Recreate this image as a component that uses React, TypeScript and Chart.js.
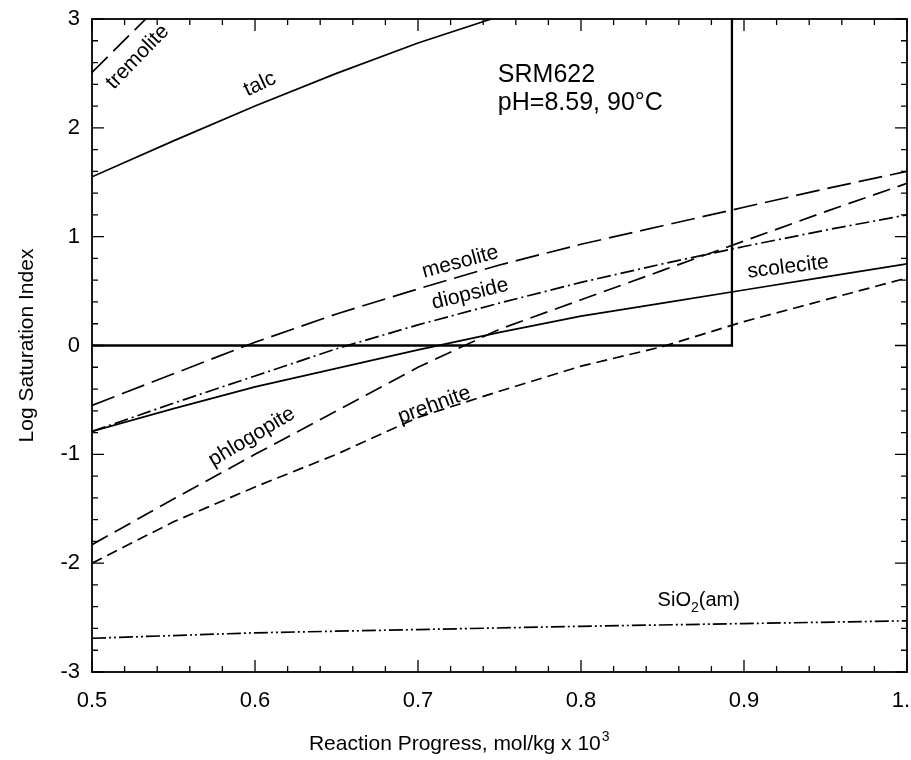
import React, { useEffect, useRef } from 'react';
import { Chart, registerables } from 'chart.js';

Chart.register(...registerables);

// ---------- data ----------
const progress = [0.5, 0.55, 0.6, 0.65, 0.7, 0.75, 0.8, 0.85, 0.9, 0.95, 1.0];
const mesolite = [-0.55, -0.26, 0.03, 0.29, 0.52, 0.74, 0.93, 1.1, 1.27, 1.44, 1.6];
const diopside = [-0.79, -0.53, -0.28, -0.03, 0.19, 0.39, 0.58, 0.75, 0.91, 1.06, 1.2];
const phlogopite = [-1.83, -1.41, -1.0, -0.6, -0.2, 0.15, 0.42, 0.69, 0.96, 1.23, 1.49];
const scolecite = [-0.79, -0.58, -0.38, -0.21, -0.04, 0.12, 0.27, 0.39, 0.51, 0.63, 0.75];
const prehnite = [-2.0, -1.62, -1.3, -1.0, -0.66, -0.42, -0.19, -0.01, 0.22, 0.42, 0.62];

const sio2Progress = [0.5, 0.6, 0.7, 0.8, 0.9, 1.0];
const sio2am = [-2.69, -2.64, -2.61, -2.58, -2.555, -2.53];

const talcProgress = [0.5, 0.55, 0.6, 0.65, 0.7, 0.745];
const talc = [1.55, 1.88, 2.2, 2.5, 2.78, 3.0];

const tremoliteProgress = [0.5, 0.533];
const tremolite = [2.51, 3.0];

const boundaryProgress = [0.5, 0.8926, 0.8926];
const boundarySI = [0, 0, 3];

const xTickValues = [0.5, 0.6, 0.7, 0.8, 0.9, 1.0];
const xTickLabels = ['0.5', '0.6', '0.7', '0.8', '0.9', '1.0'];
const yTickValues = [-3, -2, -1, 0, 1, 2, 3];
const yTickLabels = ['-3', '-2', '-1', '0', '1', '2', '3'];

const xTitleMain = 'Reaction Progress, mol/kg x 10';
const xTitleSup = '3';
const xTitleCenter = 0.725;

const curveNames = ['tremolite', 'talc', 'mesolite', 'diopside', 'prehnite', 'phlogopite', 'scolecite'];
const curveLabelX = [0.528, 0.603, 0.726, 0.732, 0.71, 0.598, 0.927];
const curveLabelY = [2.65, 2.4, 0.767, 0.473, -0.547, -0.84, 0.72];
const curveLabelAngle = [-46, -25, -15, -14, -20, -31, -7];

const infoLines = ['SRM622', 'pH=8.59, 90°C'];
const infoX = 0.749;
const infoY = [2.42, 2.165];

const sio2LabelX = 0.847;
const sio2LabelY = -2.39;

const FONT = '"Liberation Sans", Arial, Helvetica, sans-serif';

const pts = (xs: number[], ys: number[]) => xs.map((x, i) => ({ x, y: ys[i] }));

const lineDs = (label: string, data: { x: number; y: number }[], dash: number[], width = 1.7) => ({
  label,
  data,
  borderColor: '#000',
  backgroundColor: '#000',
  borderWidth: width,
  borderDash: dash,
  pointRadius: 0,
  fill: false,
  tension: 0,
});

const framePlugin = {
  id: 'frameTicks',
  afterDraw(chart: any) {
    const { ctx, chartArea } = chart;
    const { left, right, top, bottom } = chartArea;
    const xs = chart.scales.x;
    const ys = chart.scales.y;
    ctx.save();
    ctx.strokeStyle = '#000';
    ctx.lineWidth = 1.8;
    ctx.strokeRect(left, top, right - left, bottom - top);
    ctx.lineWidth = 1.3;
    ctx.beginPath();
    for (let i = 0; i <= 25; i++) {
      const v = 0.5 + i * 0.02;
      const px = xs.getPixelForValue(v);
      const len = i % 5 === 0 ? 12 : 6;
      ctx.moveTo(px, bottom);
      ctx.lineTo(px, bottom - len);
      ctx.moveTo(px, top);
      ctx.lineTo(px, top + len);
    }
    for (let i = 0; i <= 30; i++) {
      const v = -3 + i * 0.2;
      const py = ys.getPixelForValue(v);
      const len = i % 5 === 0 ? 12 : 6;
      ctx.moveTo(left, py);
      ctx.lineTo(left + len, py);
      ctx.moveTo(right, py);
      ctx.lineTo(right - len, py);
    }
    ctx.stroke();
    ctx.restore();
  },
};

const labelPlugin = {
  id: 'curveLabels',
  afterDraw(chart: any) {
    const { ctx, chartArea } = chart;
    const xs = chart.scales.x;
    const ys = chart.scales.y;
    ctx.save();
    ctx.fillStyle = '#000';
    ctx.font = `21px ${FONT}`;
    ctx.textAlign = 'center';
    ctx.textBaseline = 'middle';
    curveNames.forEach((name, i) => {
      const px = xs.getPixelForValue(curveLabelX[i]);
      const py = ys.getPixelForValue(curveLabelY[i]);
      ctx.save();
      ctx.translate(px, py);
      ctx.rotate((curveLabelAngle[i] * Math.PI) / 180);
      ctx.fillText(name, 0, 0);
      ctx.restore();
    });
    // info block
    ctx.font = `25px ${FONT}`;
    ctx.textAlign = 'left';
    ctx.textBaseline = 'alphabetic';
    infoLines.forEach((t, i) => {
      ctx.fillText(t, xs.getPixelForValue(infoX), ys.getPixelForValue(infoY[i]));
    });
    // SiO2(am)
    let sx = xs.getPixelForValue(sio2LabelX);
    const sy = ys.getPixelForValue(sio2LabelY);
    ctx.font = `20px ${FONT}`;
    ctx.fillText('SiO', sx, sy);
    sx += ctx.measureText('SiO').width;
    ctx.font = `14px ${FONT}`;
    ctx.fillText('2', sx, sy + 6);
    sx += ctx.measureText('2').width;
    ctx.font = `20px ${FONT}`;
    ctx.fillText('(am)', sx, sy);

    // x-axis title with superscript
    ctx.font = `21px ${FONT}`;
    const wMain = ctx.measureText(xTitleMain).width;
    ctx.font = `14px ${FONT}`;
    const wSup = ctx.measureText(xTitleSup).width;
    const cx = xs.getPixelForValue(xTitleCenter);
    const baseY = chartArea.bottom + 78;
    let tx = cx - (wMain + wSup) / 2;
    ctx.font = `21px ${FONT}`;
    ctx.fillText(xTitleMain, tx, baseY);
    tx += wMain + 1;
    ctx.font = `14px ${FONT}`;
    ctx.fillText(xTitleSup, tx, baseY - 9);
    ctx.restore();
  },
};

export default function App() {
  const ref = useRef<HTMLCanvasElement>(null);
  useEffect(() => {
    const canvas = ref.current;
    if (!canvas) return;
    const chart = new Chart(canvas, {
      type: 'line',
      data: {
        datasets: [
          lineDs('boundary', pts(boundaryProgress, boundarySI), [], 2.3),
          lineDs('tremolite', pts(tremoliteProgress, tremolite), [22, 8]),
          lineDs('talc', pts(talcProgress, talc), []),
          lineDs('mesolite', pts(progress, mesolite), [24, 8]),
          lineDs('diopside', pts(progress, diopside), [14, 4, 2, 4]),
          lineDs('phlogopite', pts(progress, phlogopite), [18, 8]),
          lineDs('scolecite', pts(progress, scolecite), []),
          lineDs('prehnite', pts(progress, prehnite), [11, 6]),
          lineDs('SiO2(am)', pts(sio2Progress, sio2am), [14, 3, 2, 3, 2, 3]),
        ],
      },
      options: {
        animation: false,
        responsive: false,
        layout: { padding: { top: 19, right: 4, left: 0, bottom: 0 } },
        plugins: { legend: { display: false }, tooltip: { enabled: false } },
        scales: {
          x: {
            type: 'linear',
            min: 0.5,
            max: 1.0,
            grid: { display: false, drawTicks: false },
            border: { display: false },
            afterBuildTicks: (s: any) => {
              s.ticks = xTickValues.map((v) => ({ value: v }));
            },
            ticks: {
              autoSkip: false,
              maxRotation: 0,
              padding: 16,
              color: '#000',
              font: { family: FONT, size: 22 },
              callback: (v: any) => {
                const i = xTickValues.findIndex((t) => Math.abs(t - Number(v)) < 1e-6);
                return i >= 0 ? xTickLabels[i] : '';
              },
            },
            title: { display: false },
            afterFit: (s: any) => {
              s.height = 88;
              s.paddingLeft = 0;
              s.paddingRight = 0;
            },
          },
          y: {
            type: 'linear',
            min: -3,
            max: 3,
            grid: { display: false, drawTicks: false },
            border: { display: false },
            afterBuildTicks: (s: any) => {
              s.ticks = yTickValues.map((v) => ({ value: v }));
            },
            ticks: {
              autoSkip: false,
              padding: 12,
              color: '#000',
              font: { family: FONT, size: 22 },
              callback: (v: any) => {
                const i = yTickValues.findIndex((t) => Math.abs(t - Number(v)) < 1e-6);
                return i >= 0 ? yTickLabels[i] : '';
              },
            },
            title: {
              display: true,
              text: 'Log Saturation Index',
              color: '#000',
              font: { family: FONT, size: 21 },
              padding: { top: 15, bottom: 0 },
            },
            afterFit: (s: any) => {
              s.width = 92;
              s.paddingTop = 0;
              s.paddingBottom = 0;
            },
          },
        },
      },
      plugins: [framePlugin, labelPlugin],
    } as any);
    return () => chart.destroy();
  }, []);
  return (
    <div style={{ position: 'fixed', left: 0, top: 0, width: 911, height: 760, background: '#fff' }}>
      <canvas ref={ref} width={911} height={760} style={{ width: 911, height: 760, display: 'block' }} />
    </div>
  );
}
